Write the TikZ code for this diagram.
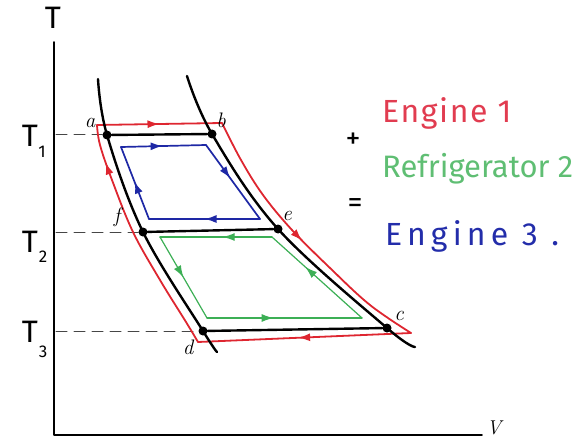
\documentclass[tikz,border=0pt]{standalone}
\usepackage{fontspec}
\newfontfamily\hand{Fira Sans}
\newfontfamily\handa[LetterSpace=5]{Fira Sans}
\newfontfamily\handsp[LetterSpace=16]{Fira Sans}
\usetikzlibrary{decorations.markings,arrows.meta}
\definecolor{rline}{RGB}{222,38,48}
\definecolor{bline}{RGB}{30,40,165}
\definecolor{gline}{RGB}{60,175,85}
\definecolor{rtext}{RGB}{225,60,80}
\definecolor{gtext}{RGB}{95,190,115}
\definecolor{btext}{RGB}{35,45,170}
\definecolor{dashgray}{RGB}{70,70,70}
\begin{document}
\begin{tikzpicture}[x=1pt,y=-1pt,
  line cap=round, line join=round,
  midarr/.style={postaction={decorate},
    decoration={markings,mark=at position #1 with {\arrow{Latex[length=12pt,width=8pt]}}}},
  midarr/.default=0.5,
  adiabat/.style={line width=2.4pt,black},
  iso/.style={line width=2.4pt,black},
  dashl/.style={dashgray,line width=1pt,dash pattern=on 11pt off 7pt},
  redl/.style={rline,line width=1.8pt},
  bluel/.style={bline,line width=1.7pt},
  greenl/.style={gline,line width=1.2pt},
  dot/.style={circle,fill=black,inner sep=0pt,minimum size=9pt},
  ptlabel/.style={font=\fontsize{21}{24}\selectfont\itshape,inner sep=0pt},
  tlabel/.style={font=\hand\fontsize{31}{36}\selectfont,inner sep=0pt},
  eqtext/.style={inner sep=0pt,anchor=west}]
\useasboundingbox (0,0) rectangle (578,441);

% axes
\coordinate (ytop) at (54,42);
\coordinate (orig) at (54,435);
\coordinate (xend) at (482,435);
\draw[line width=1.6pt] (ytop) -- (orig) -- (xend);
\node[tlabel] (Tax) at (53,18) {T};
\node[font=\fontsize{20}{24}\selectfont\itshape,inner sep=0pt] (Vax) at (494,428) {V};

% state points
\node[dot] (a) at (107,135) {};
\node[dot] (b) at (212,134) {};
\node[dot] (f) at (143,232) {};
\node[dot] (e) at (278,229) {};
\node[dot] (d) at (203,331) {};
\node[dot] (c) at (387,328) {};

% temperature levels
\coordinate (y1) at (56,135);
\coordinate (y2) at (56,232);
\coordinate (y3) at (56,331);
\draw[dashl] (y1) -- (a);
\draw[dashl] (y2) -- (f);
\draw[dashl] (y3) -- (d);
\node[tlabel] (T1) at (30,136) {T};
\node[font=\hand\fontsize{17}{20}\selectfont,inner sep=0pt] (T1s) at (42,152) {1};
\node[tlabel] (T2) at (30,242) {T};
\node[font=\hand\fontsize{17}{20}\selectfont,inner sep=0pt] (T2s) at (43,257) {2};
\node[tlabel] (T3) at (30,332) {T};
\node[font=\hand\fontsize{17}{20}\selectfont,inner sep=0pt] (T3s) at (43,352) {3};

% red engine 1
\coordinate (r1) at (97,125);
\coordinate (r2) at (222,123);
\coordinate (r3) at (411,333);
\coordinate (r4) at (198,342);
\draw[redl,midarr=0.5] (r1) -- (r2);
\draw[redl,midarr=0.5] plot[smooth,tension=0.6] coordinates {(222,123) (241,160) (263,195) (292,230) (330,268) (370,305) (411,333)};
\draw[redl,midarr=0.53] (r3) -- (r4);
\draw[redl,midarr=0.84] plot[smooth,tension=0.6] coordinates {(198,342) (186,322) (160,280) (133,232) (112,180) (100,145) (97,125)};

% blue engine 3
\coordinate (b1) at (121,147);
\coordinate (b2) at (206,145);
\coordinate (b3) at (260,219);
\coordinate (b4) at (149,219);
\draw[bluel,midarr=0.49] (b1) -- (b2);
\draw[bluel,midarr=0.45] (b2) -- (b3);
\draw[bluel,midarr=0.5] (b3) -- (b4);
\draw[bluel,midarr=0.52] (b4) -- (b1);

% green refrigerator 2
\coordinate (g1) at (272,237);
\coordinate (g2) at (160,237);
\coordinate (g3) at (207,318);
\coordinate (g4) at (362,318);
\draw[greenl,midarr=0.44] (g1) -- (g2);
\draw[greenl,midarr=0.5] (g2) -- (g3);
\draw[greenl,midarr=0.43] (g3) -- (g4);
\draw[greenl,midarr=0.63] (g4) -- (g1);

% black adiabats and isotherms
\draw[adiabat] plot[smooth,tension=0.6] coordinates {(98,79) (107,135) (143,232) (203,331) (217,352)};
\draw[adiabat] plot[smooth,tension=0.6] coordinates {(187,76) (212,134) (278,229) (387,328) (415,347)};
\draw[iso] (a) -- (b);
\draw[iso] (f) -- (e);
\draw[iso] (d) -- (c);

% point labels
\node[ptlabel] (la) at (90,123) {a};
\node[ptlabel] (lb) at (221,120) {b};
\node[ptlabel] (lf) at (117,217) {f};
\node[ptlabel] (le) at (287,216) {e};
\node[ptlabel] (lc) at (399,316) {c};
\node[ptlabel] (ld) at (188,347) {d};

% equation text
\node[eqtext,text=rtext,font=\handa\fontsize{32}{36}\selectfont] (eng1) at (382,113) {Engine 1};
\node[font=\hand\fontsize{30}{34}\selectfont,inner sep=0pt] (plus) at (353,141) {+};
\node[eqtext,text=gtext,font=\hand\fontsize{31}{36}\selectfont] (ref2) at (382,169) {Refrigerator 2};
\node[font=\hand\fontsize{30}{34}\selectfont,inner sep=0pt] (eq) at (355,206) {=};
\node[eqtext,text=btext,font=\handsp\fontsize{32}{36}\selectfont] (eng3) at (385,236) {Engine 3 .};
\end{tikzpicture}
\end{document}
